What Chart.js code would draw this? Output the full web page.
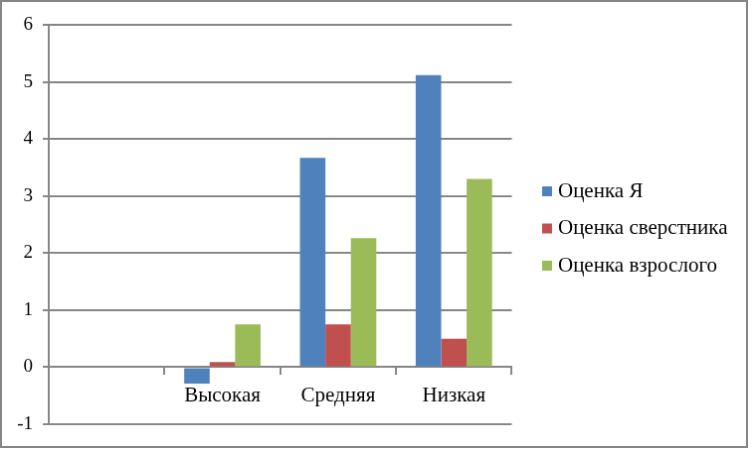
<!DOCTYPE html>
<html>
<head>
<meta charset="utf-8">
<script src="https://cdn.jsdelivr.net/npm/chart.js@4"></script>
<style>
  html, body { margin: 0; padding: 0; background: #fff; }
  #chart { display: block; border: 2px solid #868686; background: #fff; }
</style>
</head>
<body>
<canvas id="chart" width="748" height="448"></canvas>
<script>
// Data
const categories = ['', 'Высокая', 'Средняя', 'Низкая'];
const selfScores = [null, -0.29, 3.67, 5.12];
const peerScores = [null, 0.09, 0.75, 0.5];
const adultScores = [null, 0.75, 2.26, 3.3];
const yTicks = [-1, 0, 1, 2, 3, 4, 5, 6];

const gridColor = '#868686';
const fontFamily = '"Liberation Serif", "Times New Roman", serif';

// Chart.js caps a side legend at a quarter of the width; lift that cap,
// and nudge the legend block down a little
const wideLegend = {
    id: 'wideLegend',
    beforeLayout(chart) {
        const legend = chart.legend;
        if (!legend || legend._wide) return;
        const update = legend.update;
        legend.update = function (maxWidth, maxHeight, margins) {
            return update.call(this, 300, maxHeight, margins);
        };
        legend._wide = true;
    },
    afterLayout(chart) {
        chart.legend.top += 4;
        chart.legend.bottom += 4;
    }
};

function initChart() {
    const ctx = document.getElementById('chart').getContext('2d');
    new Chart(ctx, {
        type: 'bar',
        data: {
            labels: categories,
            datasets: [
                { label: 'Оценка Я', data: selfScores, backgroundColor: '#4F81BD' },
                { label: 'Оценка сверстника', data: peerScores, backgroundColor: '#C0504D' },
                { label: 'Оценка взрослого', data: adultScores, backgroundColor: '#9BBB59' }
            ]
        },
        plugins: [wideLegend],
        options: {
            responsive: false,
            animation: false,
            devicePixelRatio: 1,
            categoryPercentage: 0.66,
            barPercentage: 1,
            layout: { padding: { top: 23, bottom: 22, left: 0, right: 8.5 } },
            plugins: {
                tooltip: { enabled: false },
                legend: {
                    position: 'right',
                    labels: {
                        usePointStyle: true,
                        pointStyle: 'rect',
                        boxWidth: 1,
                        boxHeight: 10,
                        padding: 16.5,
                        color: '#000',
                        font: { family: fontFamily, size: 21 }
                    }
                }
            },
            scales: {
                x: {
                    position: { y: 0 },
                    offset: true,
                    grid: {
                        offset: true,
                        drawOnChartArea: false,
                        drawTicks: true,
                        tickLength: 7,
                        color: gridColor,
                        lineWidth: 2
                    },
                    border: { display: true, color: gridColor, width: 2 },
                    ticks: {
                        color: '#000',
                        padding: 9,
                        maxRotation: 0,
                        font: { family: fontFamily, size: 21 }
                    }
                },
                y: {
                    min: -1,
                    max: 6,
                    afterBuildTicks: scale => { scale.ticks = yTicks.map(v => ({ value: v })); },
                    afterFit: scale => {
                        scale.width = 47;
                        scale.paddingTop = 0;
                        scale.paddingBottom = 0;
                    },
                    grid: {
                        color: gridColor,
                        lineWidth: 2,
                        tickLength: 6
                    },
                    border: { display: true, color: gridColor, width: 2 },
                    ticks: {
                        color: '#000',
                        padding: 10,
                        font: { family: fontFamily, size: 19 }
                    }
                },
                gap: {
                    // empty spacer between plot and legend
                    position: 'right',
                    display: true,
                    min: 0,
                    max: 1,
                    grid: { display: false },
                    border: { display: false },
                    ticks: { display: false },
                    afterFit: scale => { scale.width = 18.5; }
                }
            }
        }
    });
}

// wait for the serif font so legend widths are measured right
document.fonts.load('21px "Liberation Serif"').then(initChart, initChart);
</script>
</body>
</html>
